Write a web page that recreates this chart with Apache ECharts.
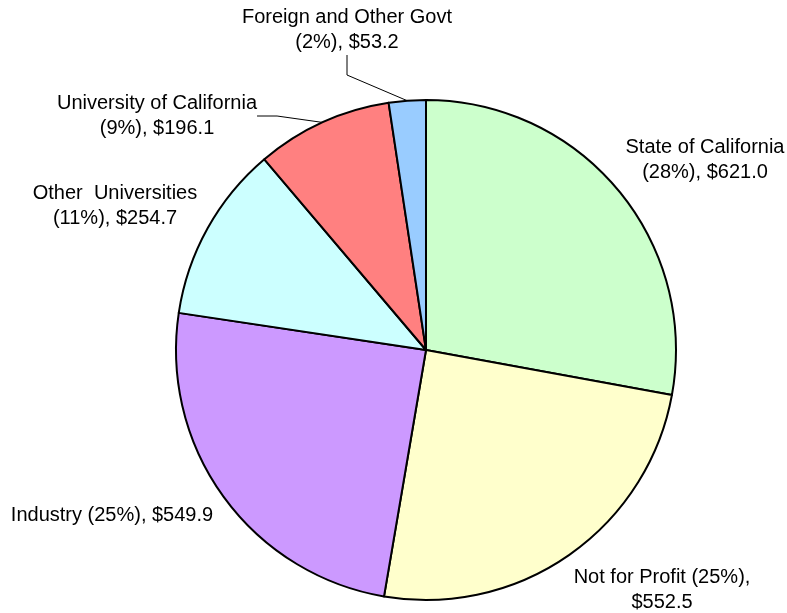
<!DOCTYPE html>
<html>
<head>
<meta charset="utf-8">
<script src="https://cdn.jsdelivr.net/npm/echarts@6/dist/echarts.min.js"></script>
<style>
  html, body { margin: 0; padding: 0; background: #fff; }
  #chart { width: 787px; height: 613px; }
</style>
</head>
<body>
<div id="chart"></div>
<script>
// funding sources, $ millions
const names = [
  "State of California",
  "Not for Profit",
  "Industry",
  "Other  Universities",
  "University of California",
  "Foreign and Other Govt"
];
const values = [621.0, 552.5, 549.9, 254.7, 196.1, 53.2];
const colors = ["#CCFFCC", "#FFFFCC", "#CC99FF", "#CCFFFF", "#FF8080", "#99CCFF"];

const withLine = [false, false, false, false, true, true];

// where labels sit (center of text block)
const labelPos = [
  [705, 160],
  [662, 590],
  [112, 515],
  [115, 206],
  [157, 116],
  [347, 30]
];

const total = values.reduce((a, b) => a + b, 0);

function labelText(i) {
  const pct = "(" + Math.round(values[i] / total * 100) + "%)";
  const money = "$" + values[i].toFixed(1);
  if (i === 1) return names[i] + " " + pct + ",\n" + money;
  if (i === 2) return names[i] + " " + pct + ", " + money;
  return names[i] + "\n" + pct + ", " + money;
}

const chart = echarts.init(document.getElementById("chart"));

chart.setOption({
  animation: false,
  series: [{
    type: "pie",
    center: [426, 350],
    radius: 250,
    startAngle: 90,
    clockwise: true,
    data: names.map((n, i) => ({
      name: n,
      value: values[i],
      itemStyle: { color: colors[i] },
      labelLine: { show: withLine[i] }
    })),
    itemStyle: { borderColor: "#000", borderWidth: 2 },
    label: {
      position: "outside",
      color: "#000",
      fontFamily: "Liberation Sans, Arial, sans-serif",
      fontSize: 20,
      lineHeight: 25,
      align: "center",
      overflow: "none",
      formatter: p => labelText(p.dataIndex)
    },
    labelLine: {
      lineStyle: { color: "#000", width: 1 },
      length: 15,
      length2: 20
    },
    labelLayout: p => ({
      x: labelPos[p.dataIndex][0],
      y: labelPos[p.dataIndex][1],
      align: "center",
      verticalAlign: "middle"
    })
  }]
});
</script>
</body>
</html>
